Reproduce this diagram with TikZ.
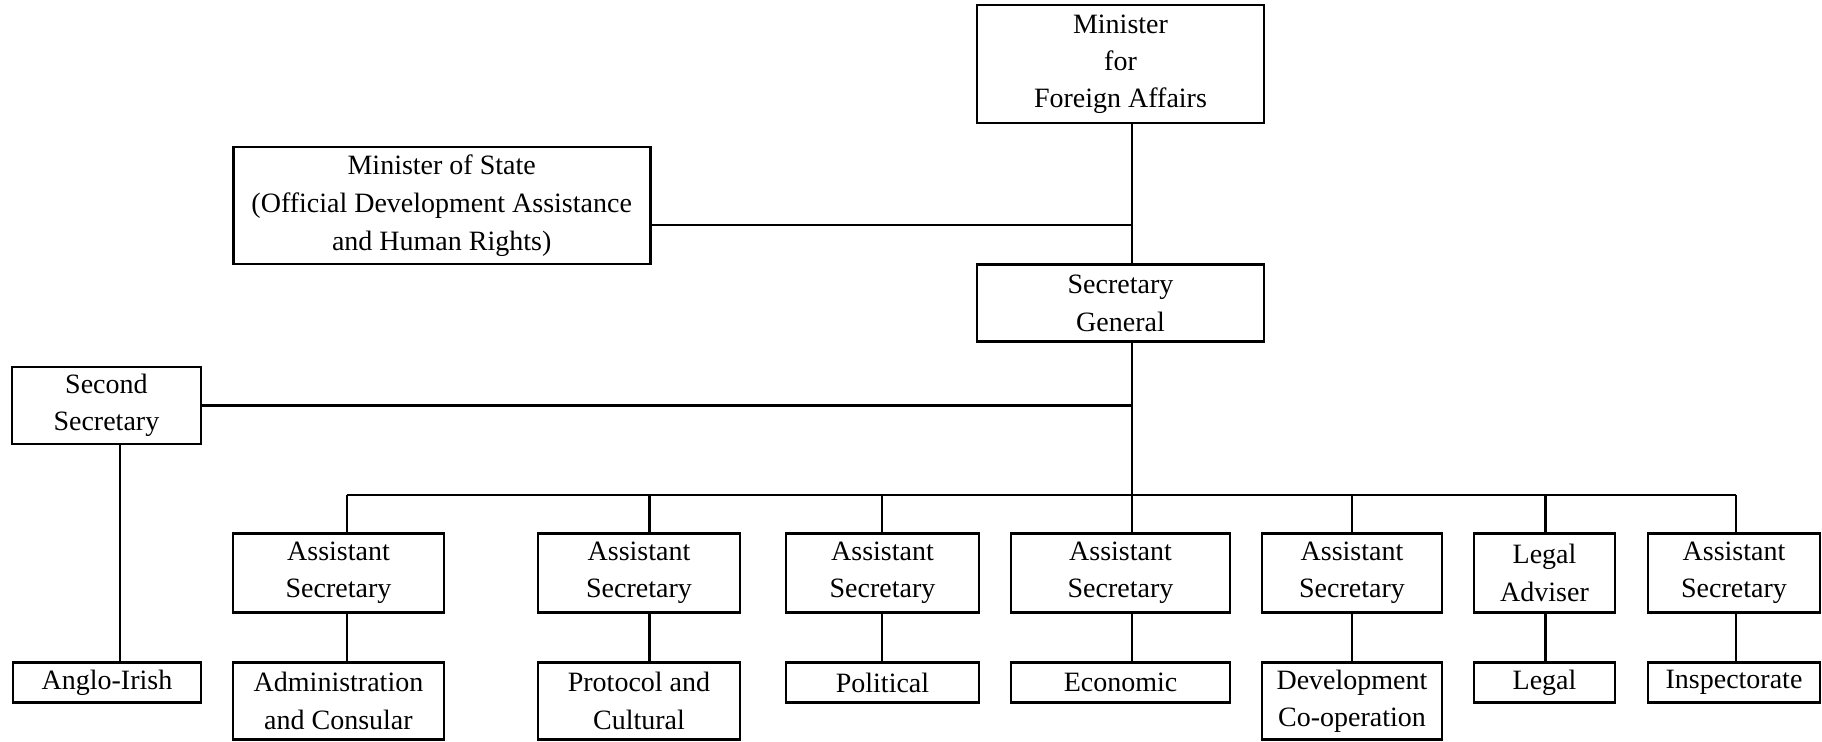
\documentclass[tikz,border=0pt]{standalone}
\usepackage{fontspec}
\setmainfont{Liberation Serif}
\usetikzlibrary{positioning}
\tikzset{
  box/.style={draw,line width=1.3pt,align=center,inner sep=0pt,outer sep=0pt,
    font=\fontsize{14}{18.6}\selectfont},
  asbox/.style={box,minimum height=39.5pt},
  unitbox/.style={box,minimum height=20pt},
  twounit/.style={box,minimum height=38.5pt},
  link/.style={line width=1.2pt}
}
\begin{document}
\begin{tikzpicture}[x=0.5pt,y=-0.5pt]
  \useasboundingbox (0,0) rectangle (1822,742);
  % top of the chart
  \node[box,minimum width=143.5pt,minimum height=59pt] (mfa) at (1120.5,64) {Minister\\for\\Foreign Affairs};
  \node[box,minimum width=208.5pt,minimum height=58.5pt,font=\fontsize{14}{19}\selectfont] (mos) at (441.7,205.7)
    {Minister of State\\(Official Development Assistance\\and Human Rights)};
  \node[box,minimum width=143.5pt,minimum height=38.5pt] (sg) at (1120.5,303.3) {Secretary\\General};
  \node[box,minimum width=94.5pt,minimum height=38.5pt] (ss) at (106.4,405.5) {Second\\Secretary};
  % assistant secretaries
  \node[asbox,minimum width=105.5pt] (as1) at (338.5,573) {Assistant\\Secretary};
  \node[asbox,minimum width=101pt,right=47pt of as1] (as2) {Assistant\\Secretary};
  \node[asbox,minimum width=96.5pt,right=23pt of as2] (as3) {Assistant\\Secretary};
  \node[asbox,minimum width=109.5pt,right=16pt of as3] (as4) {Assistant\\Secretary};
  \node[asbox,minimum width=90pt,right=16pt of as4] (as5) {Assistant\\Secretary};
  \node[asbox,minimum width=70.5pt,right=16pt of as5] (as6) {Legal\\Adviser};
  \node[asbox,minimum width=86pt,right=16.5pt of as6] (as7) {Assistant\\Secretary};
  % divisions
  \node[unitbox,minimum width=94pt] (anglo) at (107,682.5) {Anglo-Irish};
  \node[twounit,minimum width=105.5pt,below=25pt of as1] (u1) {Administration\\and Consular};
  \node[twounit,minimum width=101pt,below=25pt of as2] (u2) {Protocol and\\Cultural};
  \node[unitbox,minimum width=96.5pt,below=25pt of as3] (u3) {Political};
  \node[unitbox,minimum width=109.5pt,below=25pt of as4] (u4) {Economic};
  \node[twounit,minimum width=90pt,below=25pt of as5] (u5) {Development\\Co-operation};
  \node[unitbox,minimum width=70.5pt,below=25pt of as6] (u6) {Legal};
  \node[unitbox,minimum width=86pt,below=25pt of as7] (u7) {Inspectorate};
  % bus points
  \coordinate (b1) at (347,495);
  \coordinate (b2) at (649.6,495);
  \coordinate (b3) at (882,495);
  \coordinate (b4) at (1132,495);
  \coordinate (b5) at (1352,495);
  \coordinate (b6) at (1545.6,495);
  \coordinate (b7) at (1736,495);
  \coordinate (j1) at (1132,225);
  % connectors
  \draw[link] (mfa.south -| b4) -- (sg.north -| b4);
  \draw[link] (mos.east |- j1) -- (j1);
  \draw[link] (sg.south -| b4) -- (b4);
  \draw[link] (ss.east) -- (ss.east -| b4);
  \draw[link] ([xshift=6.8pt]ss.south) -- ([xshift=6.8pt]ss.south |- anglo.north);
  \draw[link] (b1) -- (b7);
  \foreach \i in {1,...,7}{
    \draw[link] (b\i) -- (b\i |- as\i.north);
    \draw[link] (as\i.south -| b\i) -- (b\i |- u\i.north);
  }
\end{tikzpicture}
\end{document}
